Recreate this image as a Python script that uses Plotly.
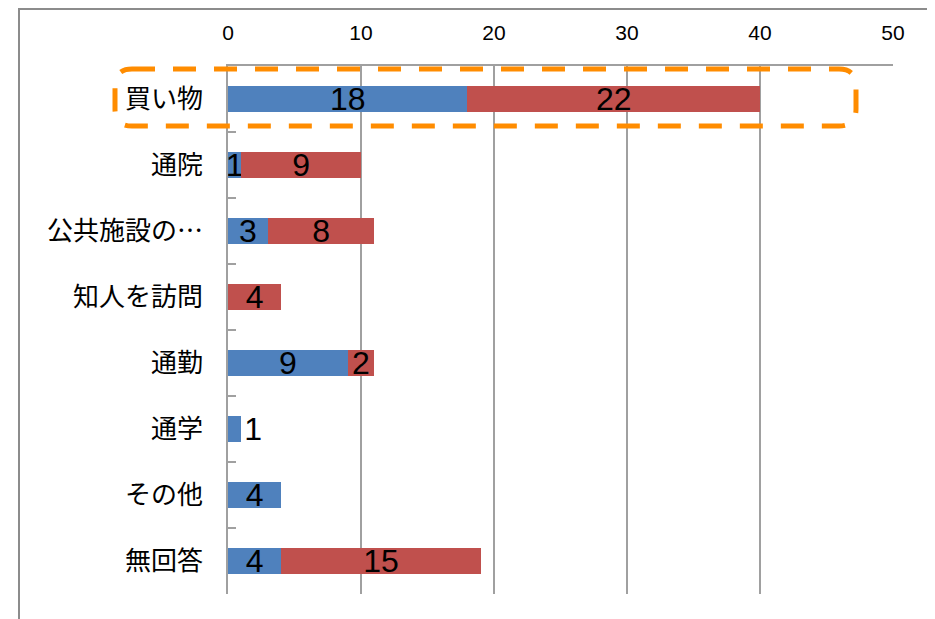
import plotly.graph_objects as go

categories = ["買い物", "通院", "公共施設の…", "知人を訪問", "通勤", "通学", "その他", "無回答"]
series_blue = [18, 1, 3, 0, 9, 1, 4, 4]
series_red = [22, 9, 8, 4, 2, 0, 0, 15]
x_ticks = [0, 10, 20, 30, 40, 50]

BLUE = "#4F81BD"
RED = "#C0504D"
GRID = "#A0A0A0"

def labels(vals):
    return [str(v) if v else "" for v in vals]

def nz(vals):
    return [v if v else None for v in vals]

# blue label goes outside when nothing is stacked on it and the bar is tiny
blue_pos = ["outside" if (b and not r) and b < 2 else "inside" for b, r in zip(series_blue, series_red)]

LABEL_FONT = dict(family="Liberation Sans, Arial, sans-serif", size=32, color="black")

fig = go.Figure()
fig.add_trace(go.Bar(
    y=categories, x=nz(series_blue), orientation="h",
    marker=dict(color=BLUE, line=dict(width=0)),
    text=labels(series_blue), textposition=blue_pos, textangle=0,
    insidetextanchor="middle", constraintext="none",
    textfont=LABEL_FONT, outsidetextfont=LABEL_FONT, insidetextfont=LABEL_FONT,
    cliponaxis=False, hoverinfo="skip",
))
fig.add_trace(go.Bar(
    y=categories, x=nz(series_red), orientation="h",
    marker=dict(color=RED, line=dict(width=0)),
    text=labels(series_red), textposition="inside", textangle=0,
    insidetextanchor="middle", constraintext="none",
    textfont=LABEL_FONT, insidetextfont=LABEL_FONT,
    cliponaxis=False, hoverinfo="skip",
))

# screen-pixel -> paper conversion (plot area spans x 228..893, y 66..594 on screen)
def px_x(p):
    return (p - 228) / 665.0

def px_y(p):
    return (594 - p) / 528.0

# outer chart border
shapes = [dict(type="rect", xref="paper", yref="paper",
               x0=px_x(19), x1=px_x(960), y0=px_y(660), y1=px_y(9),
               line=dict(color="#8C8C8C", width=2), layer="below")]

# orange dashed rounded highlight
x0, x1, y0, y1 = px_x(115), px_x(856), px_y(126), px_y(69)
rx, ry = 17 / 665.0, 17 / 528.0
path = (f"M {x0+rx},{y1} L {x1-rx},{y1} Q {x1},{y1} {x1},{y1-ry} "
        f"L {x1},{y0+ry} Q {x1},{y0} {x1-rx},{y0} L {x0+rx},{y0} "
        f"Q {x0},{y0} {x0},{y0+ry} L {x0},{y1-ry} Q {x0},{y1} {x0+rx},{y1} Z")
shapes.append(dict(type="path", xref="paper", yref="paper", path=path,
                   line=dict(color="#FF8C00", width=5, dash="23px,18px"), layer="above"))

fig.update_layout(
    width=935, height=619,
    margin=dict(l=220, r=50, t=58, b=33),
    barmode="stack", bargap=0.6,
    showlegend=False,
    paper_bgcolor="white", plot_bgcolor="white",
    shapes=shapes,
    xaxis=dict(
        side="top", range=[0, 50], tickvals=x_ticks, ticktext=[str(t) for t in x_ticks],
        showgrid=True, gridcolor=GRID, gridwidth=1.5,
        showline=True, linecolor=GRID, linewidth=1.5,
        ticks="", zeroline=False, ticklabelstandoff=16,
        tickfont=dict(family="Liberation Sans, Arial, sans-serif", size=21, color="black"),
    ),
    yaxis=dict(
        categoryorder="array", categoryarray=categories, autorange="reversed",
        showline=True, linecolor=GRID, linewidth=1.5,
        ticks="inside", ticklen=8, tickcolor=GRID, tickwidth=1.5, tickson="boundaries",
        showgrid=False, ticklabelstandoff=18,
        tickfont=dict(family="Noto Sans CJK JP, sans-serif", size=26, color="black"),
    ),
)

fig.write_html("out.html")
